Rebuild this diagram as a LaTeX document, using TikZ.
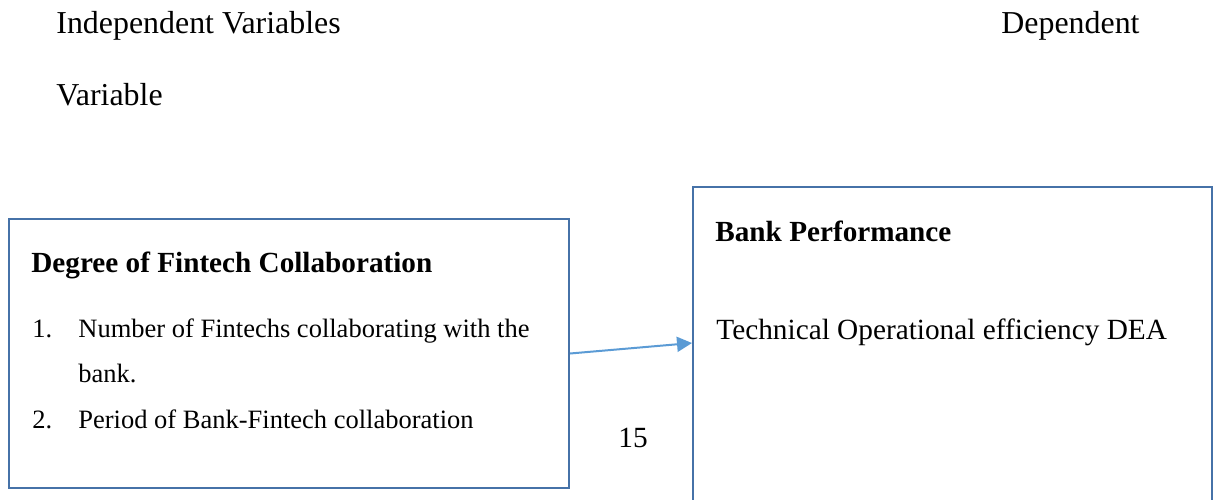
\documentclass[tikz,border=0pt]{standalone}
\usepackage{fontspec}
\setmainfont{Liberation Serif}
\usetikzlibrary{arrows.meta}

\begin{document}
\begin{tikzpicture}[x=1pt, y=-1pt, thick,
  varbox/.style={draw=boxblue, line width=2pt, inner sep=0pt},
  txt/.style={anchor=base west, inner sep=0pt, font=\fontsize{29.3}{34}\selectfont},
  smalltxt/.style={txt, font=\fontsize{26.5}{31}\selectfont},
  headtxt/.style={txt, font=\fontsize{31.9}{37}\selectfont},
  titletxt/.style={txt, font=\fontsize{29.2}{34}\selectfont\bfseries}]
\definecolor{boxblue}{HTML}{4672A8}
\definecolor{arrowblue}{HTML}{5B9BD5}

\useasboundingbox (0,0) rectangle (1215,499);
\clip (0,0) rectangle (1215,499);

% headings
\node[headtxt] (indeplabel) at (56,33) {Independent Variables};
\node[headtxt] (deplabel) at (1001,33) {Dependent};
\node[headtxt] (varlabel) at (56,105) {Variable};

% boxes
\node[varbox, minimum width=560pt, minimum height=269pt] (indep) at (289,353.5) {};
\node[varbox, minimum width=519pt, minimum height=360pt] (dep) at (952.5,367) {};

\node[titletxt] (indeptitle) at (31,272) {Degree of Fintech Collaboration};
\node[smalltxt] (num1) at (32,337) {1.};
\node[smalltxt] (item1) at (78,337) {Number of Fintechs collaborating with the};
\node[smalltxt] (item1b) at (78,382) {bank.};
\node[smalltxt] (num2) at (32,428) {2.};
\node[smalltxt] (item2) at (78,428) {Period of Bank-Fintech collaboration};

\node[titletxt] (deptitle) at (715,241) {Bank Performance};
\node[txt] (depitem) at (716,339) {Technical Operational efficiency DEA};

\node[txt] (pagenum) at (618,447) {15};

% link
\coordinate (tip) at (692,343);
\draw[arrowblue, line width=2pt, -{Triangle[length=15pt,width=15pt]}] (indep.east) -- (tip);

\end{tikzpicture}
\end{document}
